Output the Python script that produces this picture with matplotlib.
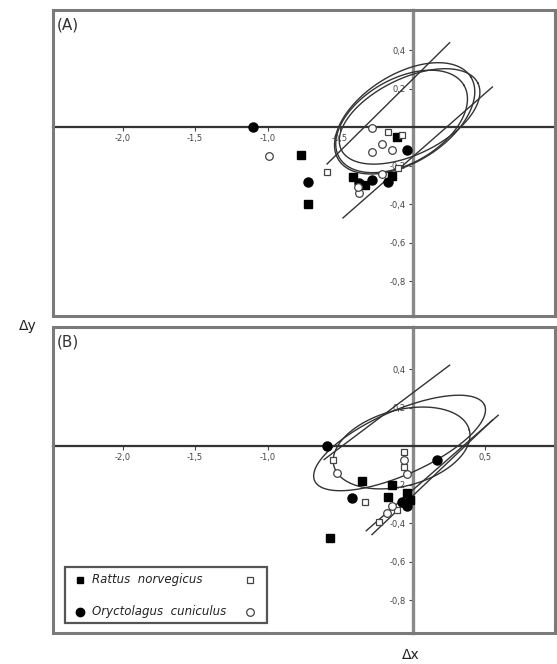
import numpy as np
import matplotlib
matplotlib.use("Agg")
import matplotlib.pyplot as plt
from matplotlib.patches import Rectangle

# ---- data -------------------------------------------------------------
# Panel A
a_rat_filled_x = [-0.77, -0.72, -0.11, -0.41, -0.33, -0.14]
a_rat_filled_y = [-0.145, -0.40, -0.05, -0.26, -0.30, -0.25]
a_rab_filled_x = [-1.10, -0.72, -0.04, -0.37, -0.28, -0.17]
a_rab_filled_y = [0.0, -0.285, -0.12, -0.29, -0.275, -0.285]
a_rat_open_x = [-0.59, -0.17, -0.07, -0.10]
a_rat_open_y = [-0.23, -0.025, -0.04, -0.21]
a_rab_open_x = [-0.99, -0.28, -0.28, -0.21, -0.14, -0.21, -0.37, -0.38]
a_rab_open_y = [-0.15, -0.005, -0.13, -0.085, -0.12, -0.24, -0.34, -0.31]

# Panel B
b_rat_filled_x = [-0.35, -0.17, -0.57, -0.04, -0.02, -0.14]
b_rat_filled_y = [-0.18, -0.265, -0.48, -0.245, -0.28, -0.20]
b_rab_filled_x = [-0.59, -0.42, 0.165, -0.07, -0.04]
b_rab_filled_y = [0.0, -0.27, -0.073, -0.29, -0.31]
b_rat_open_x = [-0.33, -0.06, -0.06, -0.23, -0.11, -0.55]
b_rat_open_y = [-0.29, -0.03, -0.11, -0.395, -0.33, -0.07]
b_rab_open_x = [-0.52, -0.06, -0.04, -0.18, -0.14]
b_rab_open_y = [-0.14, -0.07, -0.145, -0.35, -0.31]

# ellipses: centre x, centre y, semi-major, semi-minor (x units), angle (deg)
a_ell_cx = [-0.055, -0.076, -0.021]
a_ell_cy = [0.047, 0.031, 0.057]
a_ell_a = [0.538, 0.497, 0.524]
a_ell_b = [0.303, 0.29, 0.262]
a_ell_ang = [32, 30, 26]

b_ell_cx = [-0.09, -0.076]
b_ell_cy = [0.016, -0.01]
b_ell_a = [0.641, 0.483]
b_ell_b = [0.22, 0.262]
b_ell_ang = [24, 15]

# straight lines: x0, y0, x1, y1
a_line_x0 = [-0.59, -0.48]
a_line_y0 = [-0.19, -0.47]
a_line_x1 = [0.255, 0.55]
a_line_y1 = [0.44, 0.21]

b_line_x0 = [-0.61, -0.32, -0.28]
b_line_y0 = [-0.07, -0.44, -0.46]
b_line_x1 = [0.255, 0.59, 0.55]
b_line_y1 = [0.42, 0.16, 0.135]

a_xticks = [-2.0, -1.5, -1.0, -0.5]
b_xticks = [-2.0, -1.5, -1.0, 0.5]
yticks = [0.4, 0.2, -0.2, -0.4, -0.6, -0.8]

species = ["Rattus  norvegicus", "Oryctolagus  cuniculus"]

XLIM = (-2.48, 0.98)
A_YLIM = (-0.98, 0.61)
B_YLIM = (-0.97, 0.62)

# ---- figure -----------------------------------------------------------
fig = plt.figure(figsize=(5.57, 6.64), dpi=100)
axA = fig.add_axes([0.095, 0.524, 0.901, 0.461])
axB = fig.add_axes([0.095, 0.047, 0.901, 0.461])


def ellipse_xy(cx, cy, a, b, ang, k):
    t = np.linspace(0, 2 * np.pi, 300)
    th = np.deg2rad(ang)
    u = a * np.cos(t)
    v = b * np.sin(t)
    x = cx + u * np.cos(th) - v * np.sin(th)
    y = cy + (u * np.sin(th) + v * np.cos(th)) / k
    return x, y


def fmt(v):
    return ("%.1f" % v).replace(".", ",")


def setup(ax, ylim, xticks, label):
    ax.set_xlim(*XLIM)
    ax.set_ylim(*ylim)
    for s in ("top", "right"):
        ax.spines[s].set_visible(False)
    ax.spines["left"].set_position(("data", 0))
    ax.spines["bottom"].set_position(("data", 0))
    ax.spines["left"].set_color("#8a8a8a")
    ax.spines["left"].set_linewidth(2.4)
    ax.spines["bottom"].set_color("#333333")
    ax.spines["bottom"].set_linewidth(1.6)
    ax.add_patch(Rectangle((0, 0), 1, 1, transform=ax.transAxes, fill=False,
                           ec="#7a7a7a", lw=2.2, clip_on=False, zorder=5))
    ax.set_xticks(xticks)
    ax.set_xticklabels([fmt(v) for v in xticks])
    ax.set_yticks(yticks)
    ax.set_yticklabels([fmt(v) for v in yticks])
    ax.tick_params(axis="both", labelsize=6, length=3, width=0.8,
                   color="#444444", labelcolor="#444444", pad=2)
    ax.text(0.008, 0.975, label, transform=ax.transAxes, ha="left", va="top",
            fontsize=11, color="#333333")


def draw(ax, ex, ey, ea, eb, eang, lx0, ly0, lx1, ly1,
         rfx, rfy, cfx, cfy, rox, roy, cox, coy):
    k = (ax.bbox.height / (ax.get_ylim()[1] - ax.get_ylim()[0])) / \
        (ax.bbox.width / (ax.get_xlim()[1] - ax.get_xlim()[0]))
    for cx, cy, a, b, ang in zip(ex, ey, ea, eb, eang):
        x, y = ellipse_xy(cx, cy, a, b, ang, k)
        ax.plot(x, y, color="#333333", lw=1.0, zorder=3)
    for x0, y0, x1, y1 in zip(lx0, ly0, lx1, ly1):
        ax.plot([x0, x1], [y0, y1], color="#333333", lw=1.0, zorder=3)
    ax.plot(rfx, rfy, "s", ms=5.5, color="black", zorder=4)
    ax.plot(cfx, cfy, "o", ms=6.5, color="black", zorder=4)
    ax.plot(rox, roy, "s", ms=5.0, mfc="white", mec="#444444", mew=0.9, zorder=4)
    ax.plot(cox, coy, "o", ms=5.5, mfc="white", mec="#444444", mew=0.9, zorder=4)


setup(axA, A_YLIM, a_xticks, "(A)")
setup(axB, B_YLIM, b_xticks, "(B)")

draw(axA, a_ell_cx, a_ell_cy, a_ell_a, a_ell_b, a_ell_ang,
     a_line_x0, a_line_y0, a_line_x1, a_line_y1,
     a_rat_filled_x, a_rat_filled_y, a_rab_filled_x, a_rab_filled_y,
     a_rat_open_x, a_rat_open_y, a_rab_open_x, a_rab_open_y)
draw(axB, b_ell_cx, b_ell_cy, b_ell_a, b_ell_b, b_ell_ang,
     b_line_x0, b_line_y0, b_line_x1, b_line_y1,
     b_rat_filled_x, b_rat_filled_y, b_rab_filled_x, b_rab_filled_y,
     b_rat_open_x, b_rat_open_y, b_rab_open_x, b_rab_open_y)

# legend box in panel B
axB.add_patch(Rectangle((0.024, 0.033), 0.402, 0.183, transform=axB.transAxes,
                        fill=True, fc="white", ec="#555555", lw=1.6, zorder=6))
rows = [0.173, 0.069]
for sp, yy, mk, ms in zip(species, rows, ["s", "o"], [5.0, 6.0]):
    axB.plot([0.054], [yy], mk, ms=ms, color="black", transform=axB.transAxes,
             zorder=7, clip_on=False)
    axB.text(0.078, yy, sp, transform=axB.transAxes, fontsize=8.5,
             style="italic", va="center", ha="left", color="#222222", zorder=7)
    axB.plot([0.392], [yy], mk, ms=ms - 0.5, mfc="white", mec="#444444",
             mew=0.9, transform=axB.transAxes, zorder=7, clip_on=False)

fig.text(0.05, 0.509, "Δy", fontsize=10, ha="center", va="center", color="#222222")
fig.text(0.738, 0.014, "Δx", fontsize=10, ha="center", va="center", color="#222222")

fig.savefig("out.png", dpi=100, facecolor="white")
